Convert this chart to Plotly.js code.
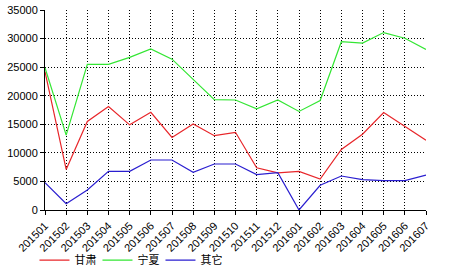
<!DOCTYPE html>
<html><head><meta charset="utf-8">
<script src="https://cdn.plot.ly/plotly-3.0.1.min.js"></script>
<style>html,body{margin:0;padding:0;background:#fff;}#c{width:466px;height:272px;}</style>
</head><body><div id="c"></div>
<script>
const months = ["201501","201502","201503","201504","201505","201506","201507","201508","201509","201510","201511","201512","201601","201602","201603","201604","201605","201606","201607"];
const gansu = [24200,7100,15500,18100,14900,17100,12700,15050,13000,13600,7400,6500,6750,5400,10600,13250,17050,14650,12200];
const ningxia = [24900,13100,25500,25500,26700,28200,26400,22900,19300,19250,17700,19250,17250,19150,29450,29200,31050,30050,28100];
const other = [4780,1100,3500,6770,6770,8750,8750,6600,8050,8050,6200,6530,0,4320,5950,5300,5130,5130,6120];
const names = ["甘肃","宁夏","其它"];
const colors = ["#e8262a","#33e633","#2a1ed0"];
const series = [gansu, ningxia, other];
const traces = series.map((s,i)=>({
  x: months, y: s, name: names[i], type: 'scatter', mode: 'lines',
  line: {color: colors[i], width: 1.2}
}));
const layout = {
  width: 466, height: 272,
  margin: {l: 45, r: 40, t: 10, b: 62},
  paper_bgcolor: '#ffffff', plot_bgcolor: '#ffffff',
  font: {family: 'Liberation Sans, Arial, sans-serif', size: 11, color: '#000'},
  xaxis: {
    type: 'category', range: [0, 18], showgrid: true, gridcolor: '#000', griddash: '1px,2px', gridwidth: 1,
    showline: true, linecolor: '#000', linewidth: 1, ticks: 'outside', ticklen: 4, tickcolor: '#000',
    tickangle: -45, tickfont: {size: 11, color: '#000'}, zeroline: false, automargin: false
  },
  yaxis: {
    range: [0, 35000], dtick: 5000, tickformat: 'd', showgrid: true, gridcolor: '#000', griddash: '1px,2px', gridwidth: 1,
    showline: true, linecolor: '#000', linewidth: 1, ticks: 'outside', ticklen: 4, tickcolor: '#000',
    tickfont: {size: 11, color: '#000'}, zeroline: false, automargin: false
  },
  showlegend: true,
  legend: {
    orientation: 'h', xref: 'container', yref: 'container', x: 0.074, xanchor: 'left', y: 0.097, yanchor: 'top',
    entrywidth: 18, entrywidthmode: 'pixels', itemwidth: 30,
    font: {family: 'Noto Sans CJK SC, sans-serif', size: 11, color: '#000'},
    bgcolor: 'rgba(0,0,0,0)'
  }
};
Plotly.newPlot('c', traces, layout, {displayModeBar: false, staticPlot: true});
</script></body></html>
